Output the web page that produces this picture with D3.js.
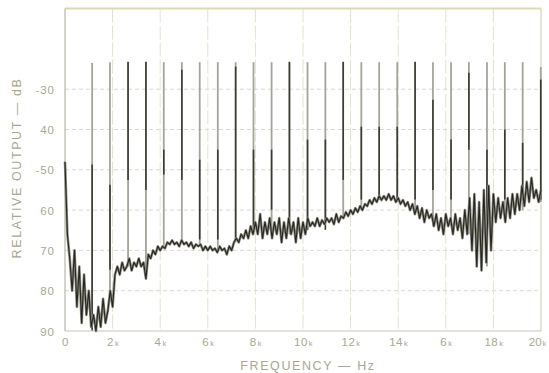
<!DOCTYPE html>
<html><head><meta charset="utf-8">
<script src="https://cdn.jsdelivr.net/npm/d3@7/dist/d3.min.js"></script>
<style>body{margin:0;background:#fff}svg{display:block}</style>
</head><body><svg id="c" width="549" height="373"></svg>
<script>
// ---- data ----
const xTickValues = [0, 2, 4, 6, 8, 10, 12, 14, 16, 18, 20];
const xTickLabels = ["0", "2k", "4k", "6k", "8k", "10k", "12k", "14k", "6k", "18k", "20k"];
const yTickValues = [-30, -40, -50, -60, -70, -80, -90];
const yTickLabels = ["-30", "40", "-50", "60", "70", "80", "90"];

// spike (tone) frequencies in kHz, their tops and bottoms in dB
const spikeFreq = [1.14, 1.89, 2.65, 3.40, 4.15, 4.91, 5.66, 6.42, 7.17, 7.92, 8.68, 9.43, 10.19,
  10.94, 11.69, 12.45, 13.20, 13.96, 14.71, 15.46, 16.22, 16.97, 17.73, 18.48, 19.23, 19.99];
const spikeTop = [-23.5, -23.3, -23.3, -23.3, -23.3, -23.3, -23.3, -23.3, -23.3, -23.3, -23.3, -23.3, -23.3,
  -23.3, -23.3, -23.3, -23.3, -23.3, -23.3, -23.3, -23.3, -23.3, -23.3, -23.3, -23.3, -24.5];
const spikeBottom = [-90, -80, -74, -76, -69, -68, -69, -70, -68, -66, -66, -66, -65,
  -63, -62, -60, -57, -58, -61, -64, -64, -66, -74, -63, -60, -58];
const spikeDarkFrom = [-48.7, -53.7, -23.2, -23.2, -45, -25.2, -47.5, -45, -24.4, -45, -45, -23.2, -42.5,
  -42.5, -23.2, -39.3, -39.3, -39.3, -23.2, -32.6, -42.5, -25.9, -45, -40, -43.3, -27.6];
const spikeDarkTo = [-89.7, -74.8, -52.5, -55, -51.2, -52.5, -67.3, -67.3, -67.3, -64.9, -59.9, -62.4, -64.9,
  -64.9, -52.5, -57.4, -57.4, -57.4, -57.4, -55, -57.4, -45, -64.9, -57.4, -57.4, -57.4];

// noise floor trace: [kHz, dB]
const noiseTrace = [
 [0.0,-48],[0.1,-66],[0.2,-72],[0.3,-80],[0.4,-70],[0.5,-84],[0.6,-74],[0.7,-88],[0.8,-76],[0.9,-86],
 [1.0,-80],[1.1,-89],[1.2,-86],[1.3,-90],[1.4,-84],[1.5,-89],[1.6,-82],[1.7,-88],[1.8,-85],[1.9,-80],
 [2.0,-84],[2.1,-76],[2.2,-74],[2.3,-76],[2.4,-73],[2.5,-75],[2.6,-74],[2.7,-72],[2.8,-75],[2.9,-73],
 [3.0,-74],[3.1,-72],[3.2,-74],[3.3,-73],[3.4,-77],[3.5,-71],[3.6,-72],[3.7,-70],[3.8,-71],[3.9,-69],
 [4.0,-70],[4.1,-69],[4.2,-69.5],[4.3,-68],[4.4,-68.5],[4.5,-67.5],[4.6,-68.5],[4.7,-68],[4.8,-69],[4.9,-67.5],
 [5.0,-68.5],[5.1,-68],[5.2,-69],[5.3,-68],[5.4,-69.5],[5.5,-68.5],[5.6,-69],[5.7,-68.5],[5.8,-70],[5.9,-69],
 [6.0,-70],[6.1,-69],[6.2,-70],[6.3,-69.5],[6.4,-70.5],[6.5,-69],[6.6,-70],[6.7,-69.5],[6.8,-71],[6.9,-69],
 [7.0,-70],[7.1,-68],[7.2,-67],[7.3,-68],[7.4,-66],[7.5,-67],[7.6,-65],[7.7,-67],[7.8,-64],[7.9,-66],
 [8.0,-63],[8.1,-66],[8.2,-61],[8.3,-67],[8.4,-63],[8.5,-66],[8.6,-62],[8.7,-67],[8.8,-63],[8.9,-66],
 [9.0,-62],[9.1,-68],[9.2,-63],[9.3,-67],[9.4,-62],[9.5,-66],[9.6,-63],[9.7,-68],[9.8,-62],[9.9,-67],
 [10.0,-63],[10.1,-66],[10.2,-62],[10.3,-64],[10.4,-63],[10.5,-64],[10.6,-62],[10.7,-64],[10.8,-62.5],[10.9,-63.5],
 [11.0,-62],[11.1,-63],[11.2,-62],[11.3,-63.5],[11.4,-61],[11.5,-63],[11.6,-61.5],[11.7,-62],[11.8,-60.5],[11.9,-61.5],
 [12.0,-60],[12.1,-61],[12.2,-59.5],[12.3,-60.5],[12.4,-59],[12.5,-60],[12.6,-58.5],[12.7,-59],[12.8,-57.5],[12.9,-58.5],
 [13.0,-57],[13.1,-58],[13.2,-56.5],[13.3,-57.5],[13.4,-56.5],[13.5,-57.5],[13.6,-56],[13.7,-57.5],[13.8,-56.5],[13.9,-58],
 [14.0,-57],[14.1,-58.5],[14.2,-57.5],[14.3,-59],[14.4,-58],[14.5,-60],[14.6,-58.5],[14.7,-61],[14.8,-59],[14.9,-62],
 [15.0,-59.5],[15.1,-63],[15.2,-60],[15.3,-62],[15.4,-61],[15.5,-64],[15.6,-61],[15.7,-65],[15.8,-62],[15.9,-66],
 [16.0,-61],[16.1,-64],[16.2,-62],[16.3,-66],[16.4,-61],[16.5,-65],[16.6,-62],[16.7,-67],[16.8,-60],[16.9,-66],
 [17.0,-57],[17.1,-70],[17.2,-56],[17.3,-74],[17.4,-58],[17.5,-75],[17.6,-55],[17.7,-73],[17.8,-54],[17.9,-70],
 [18.0,-56],[18.1,-63],[18.2,-57],[18.3,-62],[18.4,-58],[18.5,-63],[18.6,-57],[18.7,-62],[18.8,-56],[18.9,-61],
 [19.0,-56],[19.1,-60],[19.2,-54],[19.3,-59],[19.4,-53],[19.5,-58],[19.6,-52],[19.7,-57],[19.8,-55],[19.9,-58],
 [20.0,-55]
];

// ---- drawing ----
const svg = d3.select("#c");
const x = d3.scaleLinear().domain([0, 20]).range([65, 541]);
const y = d3.scaleLinear().domain([-90, -10]).range([331, 8.6]);
const labelColor = "#a8a890";
const font = "Liberation Sans, Arial, sans-serif";

// grid
svg.append("g").selectAll("line").data(xTickValues.slice(1, -1)).join("line")
  .attr("x1", d => x(d)).attr("x2", d => x(d)).attr("y1", y(-10)).attr("y2", y(-90))
  .attr("stroke", "#e4e2cc").attr("stroke-width", 1).attr("stroke-dasharray", "14,3");
svg.append("g").selectAll("line").data(yTickValues.slice(0, -1)).join("line")
  .attr("x1", x(0)).attr("x2", x(20)).attr("y1", d => y(d)).attr("y2", d => y(d))
  .attr("stroke", "#dadad2").attr("stroke-width", 1).attr("stroke-dasharray", "4,3");

// frame
svg.append("line").attr("x1", x(0)).attr("x2", x(20)).attr("y1", y(-10)).attr("y2", y(-10))
  .attr("stroke", "#dcdcb4").attr("stroke-width", 2);
svg.append("line").attr("x1", x(20)).attr("x2", x(20)).attr("y1", y(-10)).attr("y2", y(-90))
  .attr("stroke", "#d6d6b8").attr("stroke-width", 1.2);
svg.append("line").attr("x1", x(0)).attr("x2", x(20)).attr("y1", y(-90)).attr("y2", y(-90))
  .attr("stroke", "#c8c8b8").attr("stroke-width", 1.2);
svg.append("line").attr("x1", x(0)).attr("x2", x(0)).attr("y1", y(-10)).attr("y2", y(-90))
  .attr("stroke", "#b8b8a8").attr("stroke-width", 1.2);

// spikes
const spikes = spikeFreq.map((f, i) => ({f, top: spikeTop[i], bot: spikeBottom[i], df: spikeDarkFrom[i], dt: spikeDarkTo[i]}));
svg.append("g").selectAll("line").data(spikes).join("line")
  .attr("x1", d => x(d.f)).attr("x2", d => x(d.f)).attr("y1", d => y(d.top)).attr("y2", d => y(d.bot))
  .attr("stroke", "#a4a49a").attr("stroke-width", 1.8);
svg.append("g").selectAll("line").data(spikes).join("line")
  .attr("x1", d => x(d.f)).attr("x2", d => x(d.f)).attr("y1", d => y(d.df)).attr("y2", d => y(d.dt))
  .attr("stroke", "#3a3a32").attr("stroke-width", 1.6);

// noise trace
const line = d3.line().x(d => x(d[0])).y(d => y(d[1]));
svg.append("path").datum(noiseTrace).attr("d", line).attr("fill", "none")
  .attr("stroke", "#8a8a80").attr("stroke-width", 2.6).attr("stroke-linejoin", "round");
svg.append("path").datum(noiseTrace).attr("d", line).attr("fill", "none")
  .attr("stroke", "#26261f").attr("stroke-width", 1.1).attr("stroke-linejoin", "round");

// y axis
const yAxis = d3.axisLeft(y).tickValues(yTickValues).tickSize(0)
  .tickFormat((d, i) => yTickLabels[i]);
const gy = svg.append("g").attr("transform", `translate(${x(0) - 7},0)`).call(yAxis);
gy.select(".domain").remove();
gy.selectAll("text").attr("fill", labelColor).attr("font-family", font).attr("font-size", 11.5)
  .attr("letter-spacing", "1px").attr("dy", "0.36em");

// x axis
const xAxis = d3.axisBottom(x).tickValues(xTickValues).tickSize(0).tickFormat("");
const gx = svg.append("g").attr("transform", `translate(0,${y(-90)})`).call(xAxis);
gx.select(".domain").remove();
gx.selectAll(".tick").each(function(d, i) {
  const lab = xTickLabels[i];
  const last = i === xTickLabels.length - 1;
  const t = d3.select(this).append("text").attr("y", 15)
    .attr("x", last ? -4 : 0)
    .attr("text-anchor", "middle")
    .attr("fill", labelColor).attr("font-family", font).attr("font-size", 11.5)
    .attr("letter-spacing", last ? "0px" : "0.5px");
  if (lab.endsWith("k")) {
    t.append("tspan").text(lab.slice(0, -1));
    t.append("tspan").attr("font-size", 7.5).attr("dx", 1).text("k");
  } else {
    t.text(lab);
  }
});

// titles
svg.append("text").attr("x", 308).attr("y", 370).attr("text-anchor", "middle")
  .attr("fill", labelColor).attr("font-family", font).attr("font-size", 12.5)
  .attr("letter-spacing", "1.6px").text("FREQUENCY — Hz");
svg.append("text").attr("transform", "translate(21,168) rotate(-90)").attr("text-anchor", "middle")
  .attr("fill", labelColor).attr("font-family", font).attr("font-size", 12.5)
  .attr("letter-spacing", "1.6px").text("RELATIVE OUTPUT — dB");
</script></body></html>
